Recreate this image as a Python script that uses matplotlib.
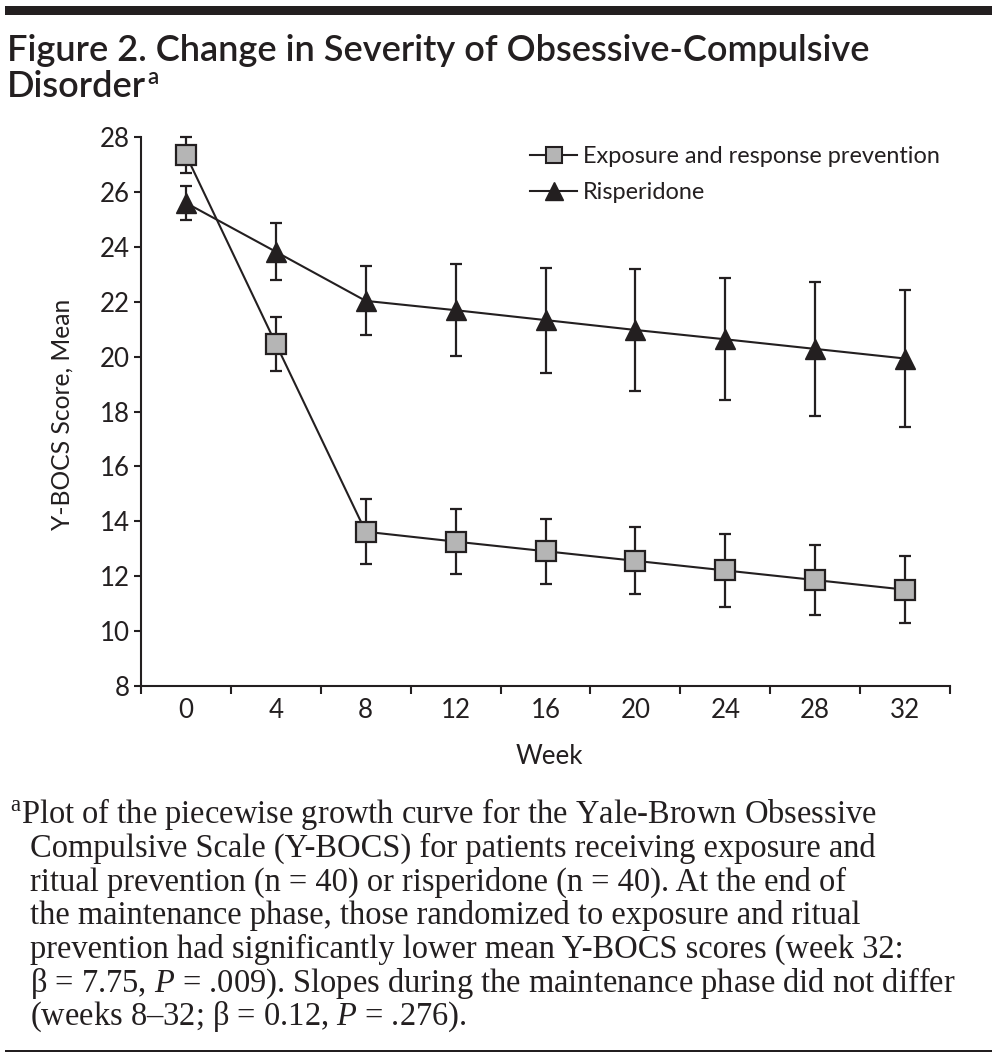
import matplotlib
matplotlib.use("Agg")
import matplotlib.pyplot as plt
import matplotlib.patches as mpatches
from matplotlib.lines import Line2D
import numpy as np

# values
weeks = [0, 4, 8, 12, 16, 20, 24, 28, 32]
erp_mean = [27.35, 20.47, 13.62, 13.26, 12.91, 12.56, 12.21, 11.86, 11.51]
erp_err = [0.65, 0.98, 1.19, 1.18, 1.19, 1.22, 1.32, 1.28, 1.23]
ris_mean = [25.60, 23.82, 22.03, 21.69, 21.33, 20.97, 20.63, 20.28, 19.93]
ris_err = [0.63, 1.03, 1.26, 1.67, 1.91, 2.21, 2.22, 2.43, 2.50]
y_ticks = [8, 10, 12, 14, 16, 18, 20, 22, 24, 26, 28]
labels = ["Exposure and response prevention", "Risperidone"]

title_lines = ["Figure 2. Change in Severity of Obsessive-Compulsive", "Disorder"]
caption = [
    r"$^{\mathrm{a}}$Plot of the piecewise growth curve for the Yale-Brown Obsessive",
    "Compulsive Scale (Y-BOCS) for patients receiving exposure and",
    "ritual prevention (n = 40) or risperidone (n = 40). At the end of",
    "the maintenance phase, those randomized to exposure and ritual",
    "prevention had significantly lower mean Y-BOCS scores (week 32:",
    r"β = 7.75, $\mathit{P}$ = .009). Slopes during the maintenance phase did not differ",
    r"(weeks 8–32; β = 0.12, $\mathit{P}$ = .276).",
]

INK = "#231f20"
GREY = "#b5b5b5"
SANS = ["Lato", "DejaVu Sans"]
SERIF = ["Liberation Serif", "DejaVu Serif"]

plt.rcParams["mathtext.fontset"] = "custom"
plt.rcParams["mathtext.rm"] = "Liberation Serif"
plt.rcParams["mathtext.it"] = "Liberation Serif:italic"

W, H = 997, 1059
fig = plt.figure(figsize=(W / 100, H / 100), dpi=100)
renderer = fig.canvas.get_renderer()


def fx(px):
    return px / W


def fy(py):
    return 1 - py / H


def fit_size(s, width, **kw):
    t = fig.text(0, 0, s, **kw)
    w = t.get_window_extent(renderer).width
    size = t.get_fontsize() * width / w
    t.remove()
    return size


# rules
fig.add_artist(mpatches.Rectangle((fx(5), fy(15)), fx(992) - fx(5), 9 / H,
                                  transform=fig.transFigure, color=INK, lw=0))
fig.add_artist(mpatches.Rectangle((fx(5), fy(1052)), fx(992) - fx(5), 2 / H,
                                  transform=fig.transFigure, color=INK, lw=0))

# title
tsize = fit_size(title_lines[0], 863, family=SANS, weight="semibold", fontsize=20)
fig.text(fx(7), fy(61), title_lines[0], family=SANS, weight="semibold",
         fontsize=tsize, color=INK, va="baseline")
t2 = fig.text(fx(7), fy(97), title_lines[1], family=SANS, weight="semibold",
              fontsize=tsize, color=INK, va="baseline")
x_end = t2.get_window_extent(renderer).x1
fig.text((x_end + 1) / W, fy(84), "a", family=SANS, weight="semibold",
         fontsize=tsize * 0.62, color=INK, va="baseline")

# caption
csize = fit_size(caption[5], 927, family=SERIF, fontsize=20)
for i, line in enumerate(caption):
    x0 = 10 if i == 0 else 30
    fig.text(fx(x0), fy(823 + 33.7 * i), line, family=SERIF, fontsize=csize,
             color=INK, va="baseline")

# plot
ax = fig.add_axes([fx(141), fy(686), fx(950) - fx(141), (686 - 137) / H])
x = np.arange(len(weeks))

ax.errorbar(x, ris_mean, yerr=ris_err, fmt="none", ecolor=INK, elinewidth=1.6,
            capsize=4, capthick=1.6, zorder=2, clip_on=False)
ax.errorbar(x, erp_mean, yerr=erp_err, fmt="none", ecolor=INK, elinewidth=1.6,
            capsize=4, capthick=1.6, zorder=2, clip_on=False)
ax.plot(x, ris_mean, color=INK, lw=1.5, marker="^", ms=14.5, mfc=INK, mec=INK,
        zorder=3, clip_on=False)
ax.plot(x, erp_mean, color=INK, lw=1.5, marker="s", ms=14, mfc=GREY, mec=INK,
        mew=1.6, zorder=3, clip_on=False)

ax.set_xlim(-0.5, len(weeks) - 0.5)
ax.set_ylim(8, 28)
ax.set_yticks(y_ticks)
ax.set_xticks(np.arange(-0.5, len(weeks), 1))
ax.set_xticklabels([])
ax.set_xticks(x, minor=True)
ax.set_xticklabels([str(w) for w in weeks], minor=True)

for side in ["top", "right"]:
    ax.spines[side].set_visible(False)
for side in ["left", "bottom"]:
    ax.spines[side].set_color(INK)
    ax.spines[side].set_linewidth(1.5)

leg_size = fit_size(labels[0], 359, family=SANS, fontsize=16)
num_size = leg_size * 1.1
ax.tick_params(axis="y", length=5, width=1.5, color=INK, pad=3,
               labelsize=num_size, labelcolor=INK)
ax.tick_params(axis="x", which="major", length=6, width=1.5, color=INK)
ax.tick_params(axis="x", which="minor", length=0, pad=9,
               labelsize=num_size, labelcolor=INK)
for lab in ax.get_yticklabels() + ax.get_xticklabels(minor=True):
    lab.set_family(SANS)

fig.text(fx(549), fy(756), "Week", family=SANS, fontsize=leg_size * 1.1,
         color=INK, ha="center", va="center")
fig.text(fx(62), fy(414), "Y-BOCS Score, Mean", family=SANS,
         fontsize=leg_size * 1.05, color=INK, ha="center", va="center",
         rotation=90)

handles = [
    Line2D([], [], color=INK, lw=1.5, marker="s", ms=11, mfc=GREY, mec=INK, mew=1.5),
    Line2D([], [], color=INK, lw=1.5, marker="^", ms=13, mfc=INK, mec=INK),
]
fpx = leg_size * 100 / 72
ax.legend(handles, labels, loc="upper left", bbox_to_anchor=(fx(530), fy(146)),
          bbox_transform=fig.transFigure, frameon=False, borderpad=0,
          borderaxespad=0, handlelength=47 / fpx, handletextpad=6 / fpx,
          labelspacing=0.65, prop={"family": SANS, "size": leg_size},
          labelcolor=INK)

fig.savefig("out.png", dpi=100)
